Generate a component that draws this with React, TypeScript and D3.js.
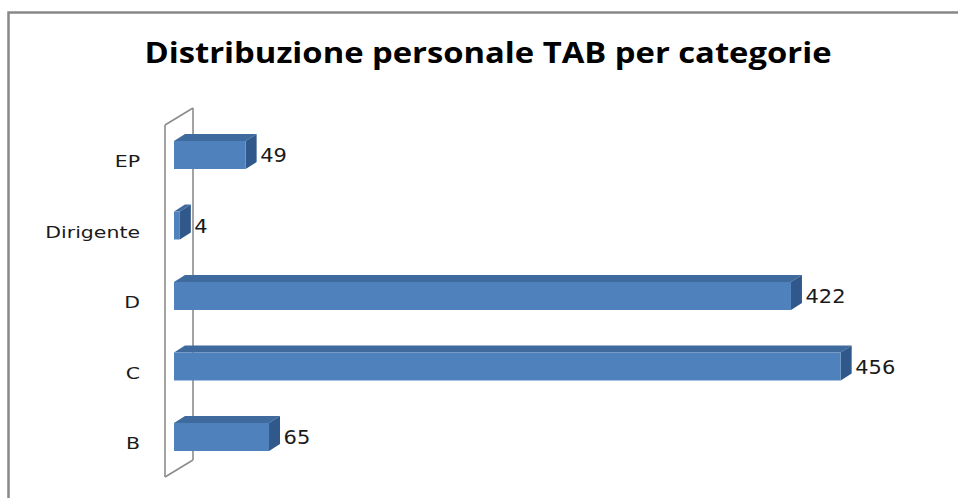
import React from "react";
import * as d3 from "d3";

const TITLE = "Distribuzione personale TAB per categorie";
const categories = ["EP", "Dirigente", "D", "C", "B"];
const values = [49, 4, 422, 456, 65];

const W = 958;
const H = 498;
const DX = 11;
const DY = -7;
const WALL_DX = 28;
const WALL_DY = -17;

export default function App() {
  const x = d3.scaleLinear().domain([0, 500]).range([174, 905]);
  const step = 70.5;
  const pi = 0.603;
  const po = 0.3;
  const r0 = 141 - step * po;
  const r1 = r0 + step * (categories.length - pi + 2 * po);
  const y = d3.scaleBand<string>().domain(categories).range([r0, r1]).paddingInner(pi).paddingOuter(po);
  const bw = y.bandwidth();

  const wallX = 165;
  const wallTop = 125;
  const wallBottom = 477;

  const front = "#4F81BD";
  const top = "#3E6A9D";
  const side = "#30588A";

  return (
    <svg width={W} height={H} style={{ position: "absolute", left: 0, top: 0, background: "#fff" }}>
      <rect x={8.5} y={12.5} width={1000} height={600} fill="none" stroke="#888" strokeWidth={2.5} />
      <text
        x={488}
        y={63}
        textAnchor="middle"
        fontFamily="'Open Sans', 'Noto Sans', sans-serif"
        fontWeight="bold"
        fontSize={29}
        textLength={687}
        lengthAdjust="spacingAndGlyphs"
        fill="#000"
      >
        {TITLE}
      </text>
      {/* wall */}
      <g fill="none" stroke="#8c8c8c" strokeWidth={1.6}>
        <line x1={wallX + WALL_DX} y1={wallTop + WALL_DY} x2={wallX + WALL_DX} y2={wallBottom + WALL_DY} />
        <line x1={wallX} y1={wallTop} x2={wallX} y2={wallBottom} />
        <line x1={wallX} y1={wallTop} x2={wallX + WALL_DX} y2={wallTop + WALL_DY} />
        <line x1={wallX} y1={wallBottom} x2={wallX + WALL_DX} y2={wallBottom + WALL_DY} />
      </g>
      {categories.map((c, i) => {
        const y0 = y(c)!;
        const xs = x(0);
        const xe = x(values[i]);
        const topPts = [
          [xs, y0],
          [xs + DX, y0 + DY],
          [xe + DX, y0 + DY],
          [xe, y0],
        ];
        const sidePts = [
          [xe, y0],
          [xe + DX, y0 + DY],
          [xe + DX, y0 + bw + DY],
          [xe, y0 + bw],
        ];
        const cy = y0 + bw / 2;
        return (
          <g key={c}>
            <polygon points={topPts.map((p) => p.join(",")).join(" ")} fill={top} />
            <polygon points={sidePts.map((p) => p.join(",")).join(" ")} fill={side} />
            <rect x={xs} y={y0} width={xe - xs} height={bw} fill={front} />
            <text
              transform={`translate(140,${cy + 12.5}) scale(1.28,1)`}
              textAnchor="end"
              fontFamily="'DejaVu Sans', sans-serif"
              fontSize={16}
              fill="#1a1a1a"
            >
              {c}
            </text>
            <text
              transform={`translate(${xe + DX + 3.5},${cy + 7.5}) scale(1.05,1)`}
              textAnchor="start"
              fontFamily="'DejaVu Sans', sans-serif"
              fontSize={20}
              fill="#1a1a1a"
            >
              {values[i]}
            </text>
          </g>
        );
      })}
    </svg>
  );
}
